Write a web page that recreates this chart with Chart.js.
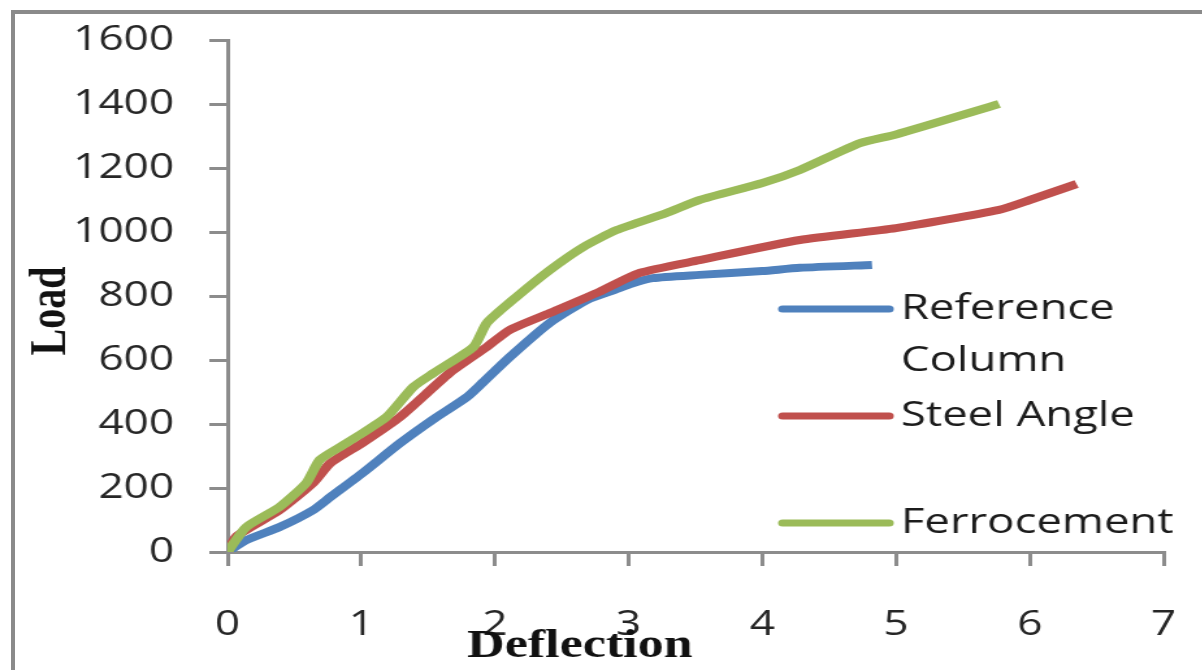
<!DOCTYPE html>
<html>
<head>
<meta charset="utf-8">
<script src="https://cdn.jsdelivr.net/npm/chart.js@4/dist/chart.umd.min.js"></script>
<style>
  html, body { margin: 0; padding: 0; background: #fff; overflow: hidden; }
  #frame {
    position: absolute; left: 11px; top: 10px; width: 1300px; height: 800px;
    border-left: 4px solid #8a8a8a; border-top: 4px solid #8a8a8a;
  }
  /* the source picture is stretched sideways, so the chart is too */
  #wrap {
    position: absolute; left: 0; top: 0; width: 925px; height: 670px;
    transform: scaleX(1.3); transform-origin: 0 0;
  }
</style>
</head>
<body>
<div id="frame"></div>
<div id="wrap"><canvas id="chart" width="925" height="670"></canvas></div>
<script>
// series names
const seriesNames = ["Reference Column", "Steel Angle", "Ferrocement"];
const seriesColors = ["#4F81BD", "#C0504D", "#9BBB59"];

// Reference Column
const refX = [0, 0.14, 0.39, 0.64, 0.77, 1.01, 1.29, 1.54, 1.79, 1.91, 2.11, 2.41, 2.69, 2.9, 3.03, 3.18, 3.53, 4.0, 4.28, 4.82];
const refY = [0, 37, 78, 131, 172, 247, 340, 415, 484, 530, 609, 716, 788, 820, 840, 856, 866, 878, 888, 897];

// Steel Angle
const steelX = [0, 0.07, 0.39, 0.64, 0.77, 1.01, 1.29, 1.66, 1.94, 2.11, 2.41, 2.78, 3.08, 3.53, 4.28, 5.0, 5.77, 6.0, 6.35];
const steelY = [0, 50, 131, 216, 278, 341, 422, 559, 641, 694, 747, 813, 872, 912, 975, 1012, 1069, 1100, 1150];

// Ferrocement
const ferroX = [0, 0.14, 0.39, 0.59, 0.69, 0.84, 1.01, 1.19, 1.39, 1.54, 1.84, 1.94, 2.16, 2.41, 2.66, 2.91, 3.28, 3.53, 4.0, 4.28, 4.73, 5.0, 5.77];
const ferroY = [0, 78, 141, 216, 288, 328, 372, 422, 516, 559, 641, 716, 797, 881, 953, 1006, 1059, 1100, 1153, 1194, 1278, 1305, 1400];

// axes
const xTicks = [0, 1, 2, 3, 4, 5, 6, 7];
const yTicks = [0, 200, 400, 600, 800, 1000, 1200, 1400, 1600];
const xTitle = "Deflection";
const yTitle = "Load";

const toPoints = (xs, ys) => xs.map((x, i) => ({ x: x, y: ys[i] }));
const seriesData = [toPoints(refX, refY), toPoints(steelX, steelY), toPoints(ferroX, ferroY)];

// titles + legend drawn by hand (legend sits inside the plot, wraps)
const extras = {
  id: "extras",
  afterDraw(chart) {
    const ctx = chart.ctx;
    ctx.save();
    ctx.fillStyle = "#111";
    ctx.font = "bold 40px 'Liberation Serif'";
    ctx.textAlign = "center";
    ctx.textBaseline = "alphabetic";
    ctx.fillText(xTitle, 446, 657);

    ctx.translate(40, 311);
    ctx.rotate(-Math.PI / 2);
    ctx.textBaseline = "middle";
    ctx.fillText(yTitle, 0, 0);
    ctx.restore();

    // legend
    ctx.save();
    ctx.font = "35px 'Open Sans'";
    ctx.textAlign = "left";
    ctx.textBaseline = "middle";
    ctx.lineCap = "round";
    const maxW = 222;
    seriesNames.forEach((name, i) => {
      const rowY = 309 + i * 107;
      ctx.strokeStyle = seriesColors[i];
      ctx.lineWidth = 7;
      ctx.beginPath();
      ctx.moveTo(602, rowY);
      ctx.lineTo(684, rowY);
      ctx.stroke();

      let lines = [name];
      if (ctx.measureText(name).width > maxW) {
        lines = [];
        let cur = "";
        name.split(" ").forEach(w => {
          const t = cur ? cur + " " + w : w;
          if (ctx.measureText(t).width > maxW && cur) { lines.push(cur); cur = w; }
          else cur = t;
        });
        lines.push(cur);
      }
      ctx.fillStyle = "#1c1c1c";
      lines.forEach((ln, j) => ctx.fillText(ln, 693, rowY + j * 52));
    });
    ctx.restore();
  }
};

const axisGrid = { display: true, drawOnChartArea: false, drawTicks: true, tickLength: 14, color: "#8c8c8c", lineWidth: 3 };
const axisBorder = { display: true, color: "#8c8c8c", width: 3 };

new Chart(document.getElementById("chart"), {
  type: "scatter",
  data: {
    datasets: seriesNames.map((name, i) => ({
      label: name,
      data: seriesData[i],
      showLine: true,
      borderColor: seriesColors[i],
      backgroundColor: seriesColors[i],
      borderWidth: 8,
      pointRadius: 0,
      tension: 0.2,
      order: 2 - i
    }))
  },
  options: {
    responsive: false,
    animation: false,
    layout: { padding: { left: 0, right: 30, top: 40, bottom: 0 } },
    plugins: { legend: { display: false }, tooltip: { enabled: false } },
    scales: {
      x: {
        type: "linear",
        min: xTicks[0],
        max: xTicks[xTicks.length - 1],
        afterBuildTicks: s => { s.ticks = xTicks.map(v => ({ value: v })); },
        afterFit: s => { s.height = 118; s.paddingLeft = 0; s.paddingRight = 0; },
        grid: axisGrid,
        border: axisBorder,
        ticks: { color: "#262626", padding: 39, font: { family: "Open Sans", size: 34 }, callback: v => String(v) }
      },
      y: {
        type: "linear",
        min: yTicks[0],
        max: yTicks[yTicks.length - 1],
        afterBuildTicks: s => { s.ticks = yTicks.map(v => ({ value: v })); },
        afterFit: s => { s.width = 175; s.paddingTop = 0; s.paddingBottom = 0; },
        grid: axisGrid,
        border: axisBorder,
        ticks: { color: "#262626", padding: 27, font: { family: "Open Sans", size: 34 }, callback: v => String(v) }
      }
    }
  },
  plugins: [extras]
});
</script>
</body>
</html>
